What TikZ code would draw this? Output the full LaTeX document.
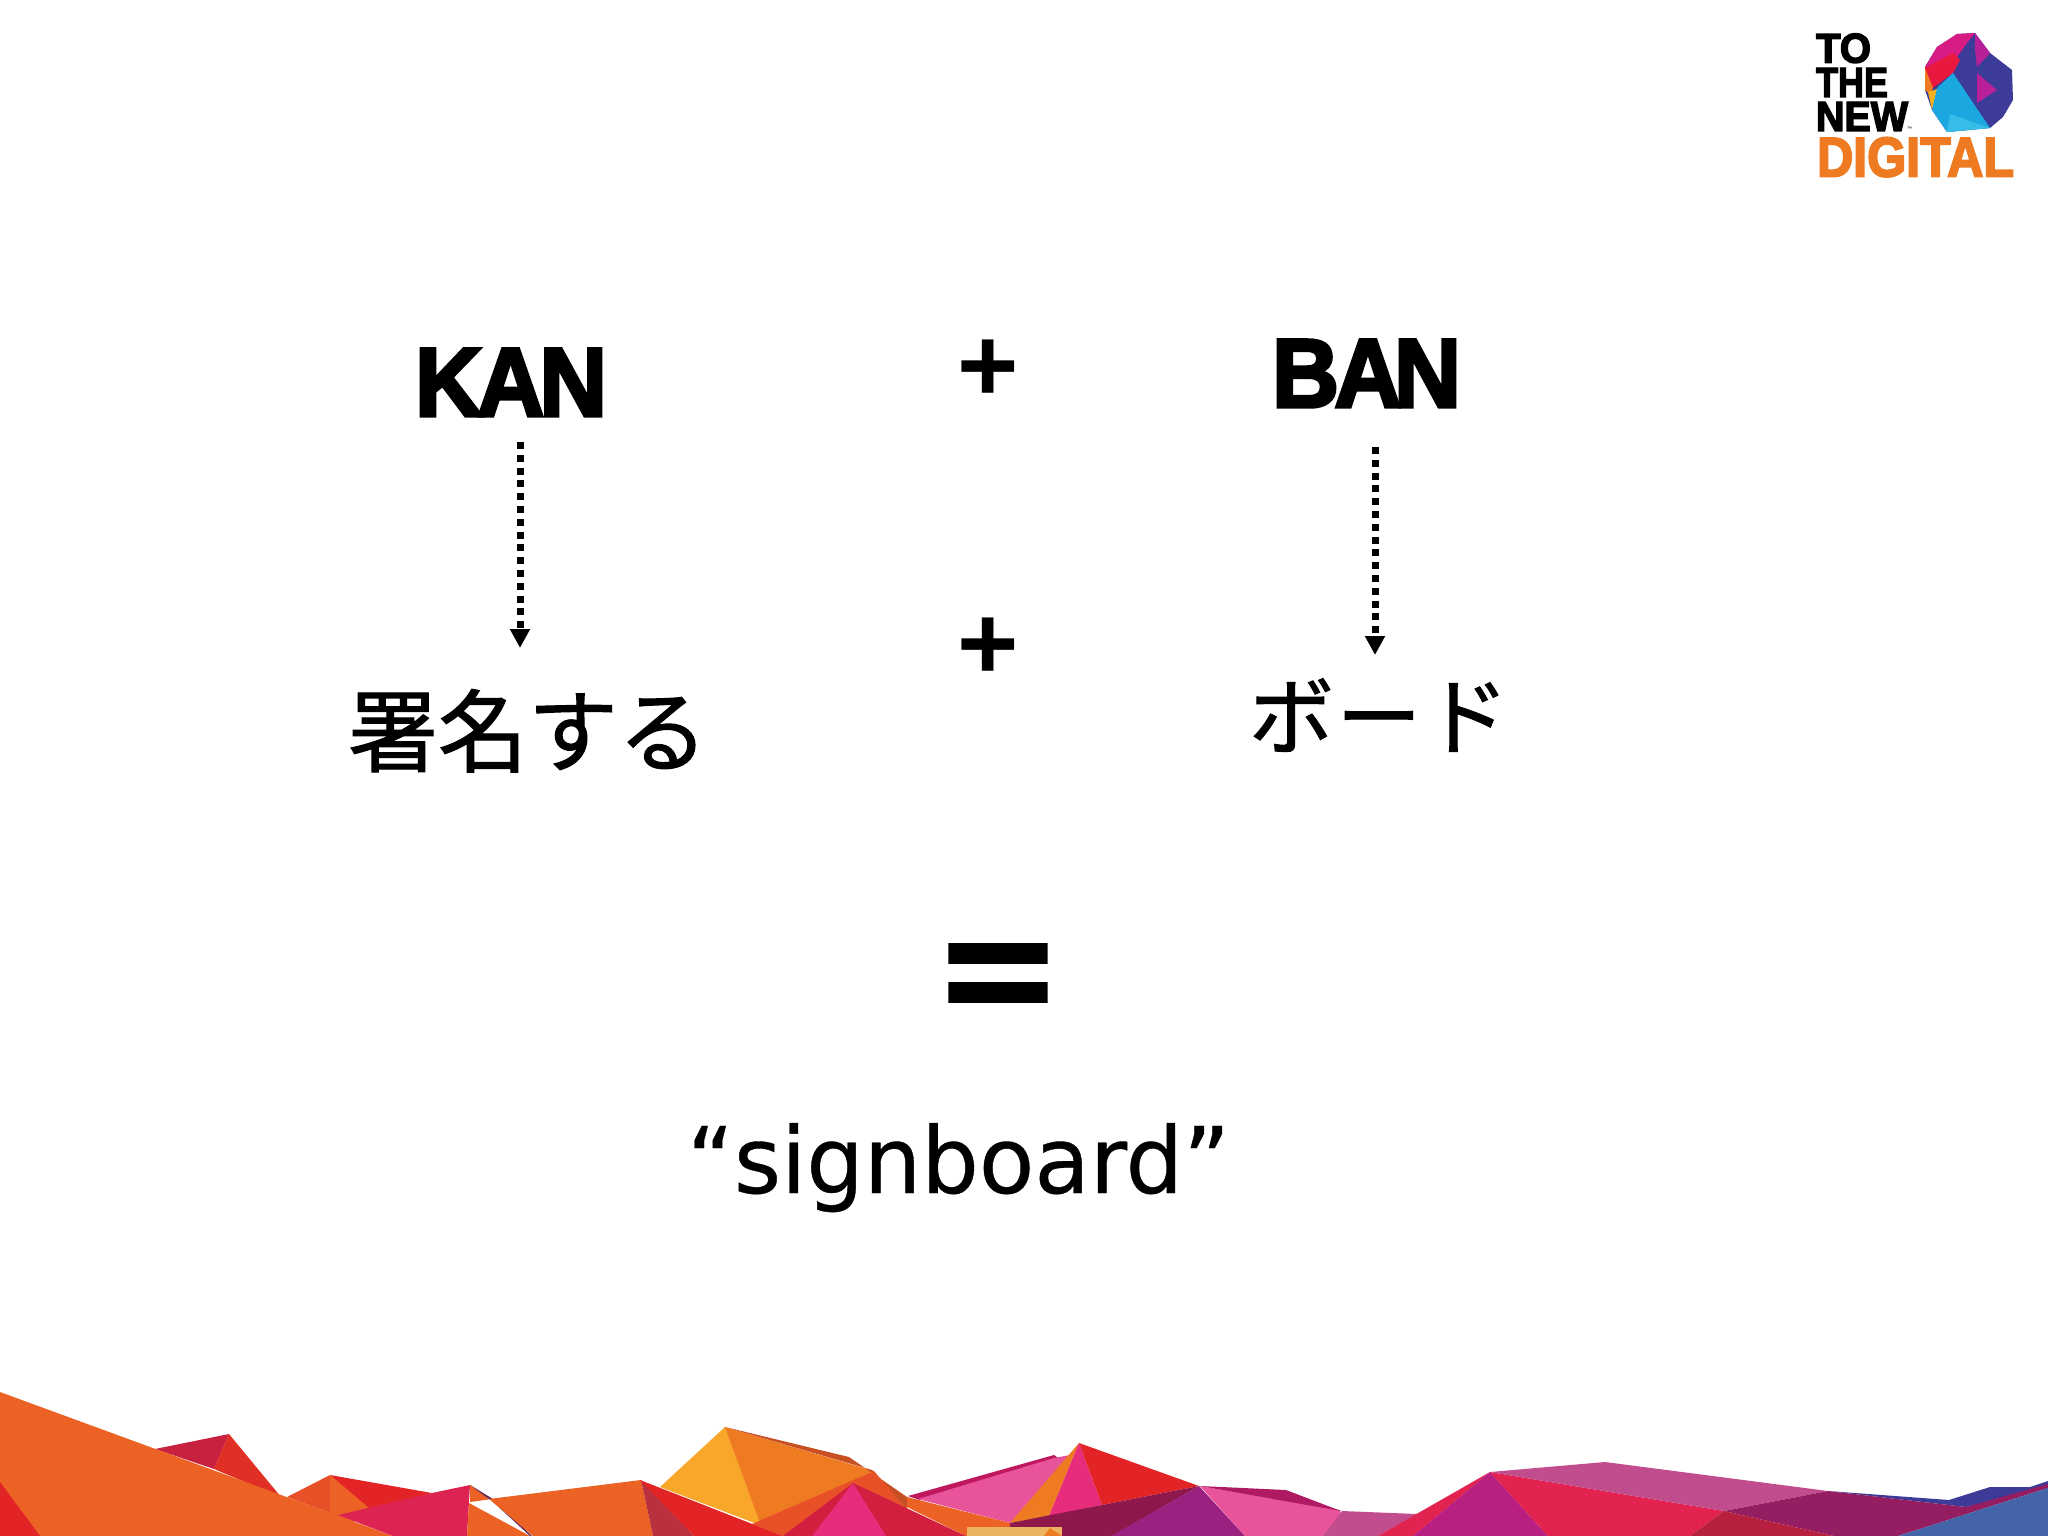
\documentclass[tikz,border=0pt]{standalone}
\usepackage{fontspec}
\usepackage{graphicx}
\usetikzlibrary{arrows.meta}
\setmainfont{Liberation Sans}
\newfontfamily\heavyfont[FakeBold=3.5]{Liberation Sans Bold}
\newfontfamily\plainbold{Liberation Sans Bold}
\newfontfamily\jpfont[FakeBold=1.2]{Noto Sans CJK JP}
\newfontfamily\verdfont[FakeBold=0.4]{DejaVu Sans}
\definecolor{oA}{HTML}{EC6225}
\definecolor{oB}{HTML}{EE7B22}
\definecolor{oC}{HTML}{E85028}
\definecolor{yA}{HTML}{F9A72A}
\definecolor{rA}{HTML}{E32426}
\definecolor{rB}{HTML}{E03025}
\definecolor{cA}{HTML}{C8203F}
\definecolor{cB}{HTML}{DD2352}
\definecolor{cC}{HTML}{D21F3F}
\definecolor{cD}{HTML}{B71F3F}
\definecolor{cE}{HTML}{E2224F}
\definecolor{brA}{HTML}{B9303E}
\definecolor{brB}{HTML}{C84F22}
\definecolor{pA}{HTML}{E72C7C}
\definecolor{pB}{HTML}{E8539A}
\definecolor{pC}{HTML}{C0185F}
\definecolor{pD}{HTML}{B01A63}
\definecolor{mA}{HTML}{8E184C}
\definecolor{mB}{HTML}{9B2180}
\definecolor{mC}{HTML}{C24D8E}
\definecolor{mD}{HTML}{951D62}
\definecolor{mE}{HTML}{B91F80}
\definecolor{blA}{HTML}{3C3B98}
\definecolor{blB}{HTML}{4464AA}
\definecolor{tan}{HTML}{EBB35F}
\definecolor{dkP}{HTML}{5E2A5E}
\definecolor{logoO}{HTML}{EE7A22}
\definecolor{gM}{HTML}{D81B85}
\definecolor{gC}{HTML}{1BA8E0}
\definecolor{gL}{HTML}{35BDE8}
\definecolor{gP}{HTML}{B8209A}
\definecolor{gY}{HTML}{F5B020}
\definecolor{gR}{HTML}{E8183F}
\tikzset{
  lbl/.style={inner sep=0pt,outer sep=0pt,anchor=south west},
  baselbl/.style={inner sep=0pt,outer sep=0pt,anchor=base west},
  dotarrow/.style={line width=7pt,dash pattern=on 7pt off 5.8pt,
    -{Triangle[length=19pt,width=19pt]}},
}
\newcommand{\sized}[1]{\fontsize{#1pt}{#1pt}\selectfont}
\begin{document}
\begin{tikzpicture}[x=1pt,y=-1pt]
\fill[white] (0,0) rectangle (2048,1536);
\useasboundingbox (0,0) rectangle (2048,1536);

% ---- bottom polygons, left part
\fill[cA] (155,1449) -- (229,1434) -- (214,1469) -- cycle;
\fill[rB] (229,1434) -- (281,1497) -- (214,1469) -- cycle;
\fill[rA] (330,1475) -- (432,1493) -- (369,1510) -- cycle;
\fill[oC] (287,1497) -- (330,1475) -- (330,1513) -- cycle;
\fill[oA] (330,1475) -- (369,1508) -- (350,1525) -- (330,1513) -- cycle;
\fill[oA] (0,1392) -- (393,1536) -- (0,1536) -- cycle;
\fill[rA] (0,1482) -- (40,1536) -- (0,1536) -- cycle;
\fill[cB] (338,1515) -- (432,1493) -- (470,1485) -- (467,1536) -- (393,1536) -- cycle;
\fill[oA] (470,1485) -- (492,1499) -- (470,1502) -- cycle;
\fill[dkP] (470,1485) -- (493,1499) -- (489,1499) -- cycle;
\fill[dkP] (490,1499) -- (493,1499) -- (532,1536) -- (530,1536) -- cycle;
\fill[oA] (469,1503) -- (530,1536) -- (467,1536) -- cycle;
\fill[oA] (489,1499) -- (641,1480) -- (653,1536) -- (549,1536) -- (533,1536) -- cycle;
% ---- middle peaks
\fill[yA] (725,1427) -- (765,1527) -- (660,1487) -- cycle;
\fill[oB] (725,1427) -- (874,1471) -- (760,1523) -- cycle;
\fill[brB] (725,1427) -- (849,1457) -- (907,1497) -- (907,1510) -- (872,1470) -- cycle;
\fill[oC] (874,1471) -- (907,1510) -- (783,1536) -- (752,1524) -- cycle;
\fill[brA] (641,1480) -- (694,1536) -- (653,1536) -- cycle;
\fill[rA] (640,1480) -- (783,1536) -- (694,1536) -- cycle;
\fill[pC] (908,1496) -- (1054,1455) -- (1064,1462) -- (920,1500) -- cycle;
\fill[pB] (918,1499) -- (1054,1458) -- (1070,1455) -- (1010,1523) -- cycle;
\fill[oA] (907,1497) -- (1010,1523) -- (1010,1536) -- (966,1536) -- (907,1507) -- cycle;
\fill[cC] (853,1483) -- (966,1536) -- (783,1536) -- cycle;
\fill[pA] (853,1483) -- (886,1536) -- (812,1536) -- cycle;
\fill[oB] (1079,1443) -- (1010,1523) -- (1049,1516) -- cycle;
\fill[pA] (1079,1443) -- (1049,1516) -- (1102,1505) -- cycle;
\fill[rA] (1079,1443) -- (1199,1486) -- (1102,1505) -- cycle;
\fill[mA] (1010,1523) -- (1199,1486) -- (1112,1536) -- (1010,1536) -- cycle;
\fill[tan] (967,1527) -- (1062,1527) -- (1062,1536) -- (967,1536) -- cycle;
\fill[oB] (1050,1528) -- (1062,1536) -- (1044,1536) -- cycle;
\fill[mB] (1199,1486) -- (1245,1536) -- (1111,1536) -- cycle;
\fill[pB] (1200,1486) -- (1340,1510) -- (1342,1520) -- (1323,1536) -- (1245,1536) -- cycle;
\fill[pD] (1200,1486) -- (1286,1490) -- (1341,1511) -- cycle;
% ---- right part
\fill[mC] (1342,1511) -- (1417,1514) -- (1378,1536) -- (1323,1536) -- cycle;
\fill[cE] (1490,1472) -- (1413,1536) -- (1378,1536) -- cycle;
\fill[mE] (1490,1472) -- (1548,1536) -- (1413,1536) -- cycle;
\fill[cE] (1490,1472) -- (1724,1511) -- (1690,1536) -- (1548,1536) -- cycle;
\fill[mC] (1490,1472) -- (1605,1462) -- (1828,1491) -- (1724,1511) -- cycle;
\fill[blA] (1828,1491) -- (1949,1500) -- (1990,1487) -- (2030,1487) -- (2048,1481) -- (2048,1488) -- (1966,1507) -- cycle;
\fill[mD] (1724,1511) -- (1828,1491) -- (1966,1507) -- (2048,1484) -- (2048,1488) -- (1898,1536) -- (1834,1536) -- cycle;
\fill[cD] (1724,1511) -- (1834,1536) -- (1690,1536) -- cycle;
\fill[blB] (1898,1536) -- (2048,1488) -- (2048,1536) -- cycle;

% ---- logo gem
\fill[blA] (1957,34) -- (1975,33) -- (1990,53) -- (2012,70) -- (2013,100) -- (2003,117) -- (1990,128) -- (1947,132) -- (1932,110) -- (1925,90) -- (1925,67) -- (1937,47) -- cycle;
\fill[gM] (1957,34) -- (1975,33) -- (1967,43) -- (1953,63) -- (1925,70) -- (1925,67) -- (1937,47) -- cycle;
\fill[gR] (1925,68) -- (1953,53) -- (1960,60) -- (1953,73) -- (1933,88) -- (1927,82) -- cycle;
\fill[oB] (1925,68) -- (1933,88) -- (1930,94) -- (1925,90) -- cycle;
\fill[gY] (1928,92) -- (1940,88) -- (1935,100) -- (1932,110) -- cycle;
\fill[gC] (1953,73) -- (1990,128) -- (1947,132) -- (1932,110) -- (1937,88) -- cycle;
\fill[gL] (1947,132) -- (1990,128) -- (1950,114) -- cycle;
\fill[gP] (1975,33) -- (1990,53) -- (1977,67) -- (1975,50) -- cycle;
\fill[gP] (1977,73) -- (1997,90) -- (1977,103) -- cycle;

% ---- logo text
\node[lbl] (logoTo) at (1816,63) {\resizebox{55pt}{29pt}{\heavyfont TO}};
\node[lbl] (logoThe) at (1816,97) {\resizebox{72pt}{29pt}{\heavyfont THE}};
\node[lbl] (logoNew) at (1816,131) {\resizebox{92pt}{29pt}{\heavyfont NEW}};
\node[lbl] (logoTm) at (1907,131) {\sized{5}™};
\node[lbl,text=logoO] (logoDig) at (1817,177) {\resizebox{197pt}{39pt}{\heavyfont DIGITAL}};

% ---- main words
\node[lbl] (kan) at (415,416) {\resizebox{192pt}{67pt}{\heavyfont K\kern-.06em A\kern-.05em N}};
\node[lbl] (ban) at (1272,407) {\resizebox{189pt}{67pt}{\heavyfont B\kern-.05em A\kern-.08em N}};
\node[lbl] (plusA) at (957,401) {\plainbold\sized{105}+};
\node[lbl] (plusB) at (957,679) {\plainbold\sized{105}+};
\node[lbl] (equalsSign) at (944,1021) {\heavyfont\sized{100}\scalebox{1.85}[1.45]{=}};
\node[baselbl] (kanji) at (348,765) {\jpfont\sized{90}署名する};
\node[baselbl] (kata) at (1249,748) {\jpfont\sized{85}ボ\kern2.5pt ー\kern2.5pt ド};
\node[baselbl] (sign) at (687,1193) {\verdfont\sized{92}\scalebox{.985}[1]{“signboard”}};

\coordinate (kanStart) at (520,442);
\coordinate (kanEnd) at (520,648);
\coordinate (banStart) at (1375,447);
\coordinate (banEnd) at (1375,655);
\draw[dotarrow] (kanStart) -- (kanEnd);
\draw[dotarrow] (banStart) -- (banEnd);
\end{tikzpicture}
\end{document}
